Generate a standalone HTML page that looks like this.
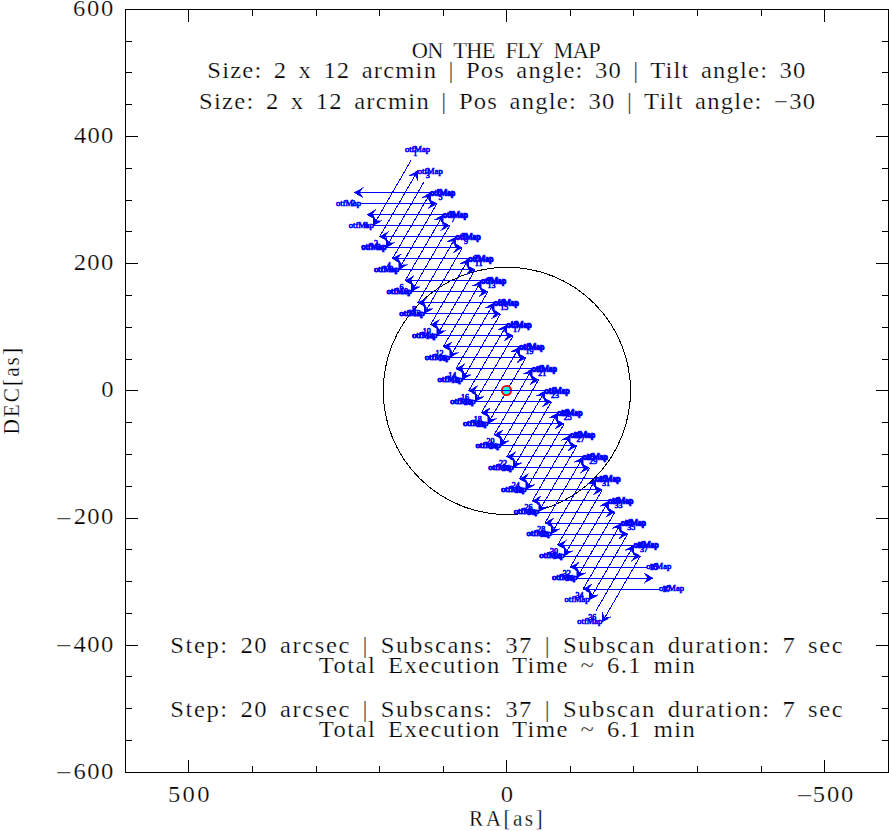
<!DOCTYPE html><html><head><meta charset="utf-8"><title>ON THE FLY MAP</title><style>
html,body{margin:0;padding:0;background:#fff;width:889px;height:831px;overflow:hidden}
svg{display:block}
text{font-family:"Liberation Serif","DejaVu Serif",serif;font-size:22.4px;fill:#000;stroke:#fff;stroke-width:0.25px}
.lbl text{font-size:9px;fill:#0000ff;stroke:#0000ff;stroke-width:0.7px}
</style></head><body>
<svg width="889" height="831" viewBox="0 0 889 831">
<rect width="889" height="831" fill="#fff"/>
<path d="M125.5 9.5H888.5V772.5H125.5Z" fill="none" stroke="#000" stroke-width="1" shape-rendering="crispEdges"/>
<path d="M126 740.5h6M888 740.5h-6M126 708.5h6M888 708.5h-6M126 676.5h6M888 676.5h-6M126 645.5h12M888 645.5h-12M126 613.5h6M888 613.5h-6M126 581.5h6M888 581.5h-6M126 549.5h6M888 549.5h-6M126 518.5h12M888 518.5h-12M126 486.5h6M888 486.5h-6M126 454.5h6M888 454.5h-6M126 422.5h6M888 422.5h-6M126 390.5h12M888 390.5h-12M126 359.5h6M888 359.5h-6M126 327.5h6M888 327.5h-6M126 295.5h6M888 295.5h-6M126 263.5h12M888 263.5h-12M126 231.5h6M888 231.5h-6M126 200.5h6M888 200.5h-6M126 168.5h6M888 168.5h-6M126 136.5h12M888 136.5h-12M126 104.5h6M888 104.5h-6M126 72.5h6M888 72.5h-6M126 41.5h6M888 41.5h-6M824.5 10v12M824.5 772v-12M761.5 10v6M761.5 772v-6M697.5 10v6M697.5 772v-6M633.5 10v6M633.5 772v-6M570.5 10v6M570.5 772v-6M506.5 10v12M506.5 772v-12M443.5 10v6M443.5 772v-6M379.5 10v6M379.5 772v-6M316.5 10v6M316.5 772v-6M252.5 10v6M252.5 772v-6M188.5 10v12M188.5 772v-12" stroke="#000" stroke-width="1" fill="none" shape-rendering="crispEdges"/>
<circle cx="506.9" cy="390.9" r="123.6" fill="none" stroke="#000" stroke-width="1" shape-rendering="crispEdges"/>
<path d="M411.45 159.6L373.3 225.67M379.66 236.69L417.81 170.61M424.17 181.62L386.02 247.7M392.38 258.71L430.52 192.64M436.88 203.65L398.73 269.72M405.09 280.74L443.24 214.66M449.6 225.67L411.45 291.75M417.81 302.76L455.96 236.69M462.31 247.7L424.17 313.77M430.52 324.79L468.67 258.71M475.03 269.72L436.88 335.8M443.24 346.81L481.39 280.74M487.75 291.75L449.6 357.82M455.96 368.84L494.1 302.76M500.46 313.77L462.31 379.85M468.67 390.86L506.82 324.79M513.18 335.8L475.03 401.87M481.39 412.88L519.54 346.81M525.89 357.82L487.75 423.9M494.1 434.91L532.25 368.84M538.61 379.85L500.46 445.92M506.82 456.93L544.97 390.86M551.33 401.87L513.18 467.95M519.54 478.96L557.68 412.88M564.04 423.9L525.89 489.97M532.25 500.98L570.4 434.91M576.76 445.92L538.61 512M544.97 523.01L583.12 456.93M589.47 467.95L551.33 534.02M557.68 545.03L595.83 478.96M602.19 489.97L564.04 556.05M570.4 567.06L608.55 500.98M614.91 512L576.76 578.07M583.12 589.08L621.26 523.01M627.62 534.02L589.47 600.1M595.83 611.11L633.98 545.03M640.34 556.05L602.19 622.12" stroke="#0000ff" stroke-width="1" fill="none" shape-rendering="crispEdges"/>
<path d="M373.3 225.67L373.3 215.28L375.9 221.17L382.31 220.48ZM417.81 170.61L417.81 181.01L415.21 175.12L408.8 175.81ZM386.02 247.7L386.01 237.3L388.62 243.2L395.02 242.5ZM430.52 192.64L430.53 203.03L427.92 197.14L421.52 197.83ZM398.73 269.72L398.73 259.33L401.33 265.22L407.74 264.53ZM443.24 214.66L443.24 225.06L440.64 219.17L434.24 219.86ZM411.45 291.75L411.45 281.35L414.05 287.25L420.45 286.55ZM455.96 236.69L455.96 247.08L453.36 241.19L446.95 241.88ZM424.17 313.77L424.16 303.38L426.77 309.27L433.17 308.58ZM468.67 258.71L468.68 269.11L466.07 263.21L459.67 263.91ZM436.88 335.8L436.88 325.4L439.48 331.29L445.89 330.6ZM481.39 280.74L481.39 291.13L478.79 285.24L472.38 285.93ZM449.6 357.82L449.59 347.43L452.2 353.32L458.6 352.63ZM494.1 302.76L494.11 313.16L491.5 307.26L485.1 307.96ZM462.31 379.85L462.31 369.45L464.91 375.34L471.32 374.65ZM506.82 324.79L506.82 335.18L504.22 329.29L497.82 329.98ZM475.03 401.87L475.03 391.48L477.63 397.37L484.03 396.68ZM519.54 346.81L519.54 357.2L516.94 351.31L510.53 352ZM487.75 423.9L487.74 413.5L490.35 419.39L496.75 418.7ZM532.25 368.84L532.26 379.23L529.65 373.34L523.25 374.03ZM500.46 445.92L500.46 435.53L503.06 441.42L509.47 440.73ZM544.97 390.86L544.97 401.25L542.37 395.36L535.96 396.05ZM513.18 467.95L513.17 457.55L515.78 463.44L522.18 462.75ZM557.68 412.88L557.69 423.28L555.08 417.39L548.68 418.08ZM525.89 489.97L525.89 479.58L528.49 485.47L534.9 484.78ZM570.4 434.91L570.4 445.3L567.8 439.41L561.4 440.1ZM538.61 512L538.61 501.6L541.21 507.49L547.61 506.8ZM583.12 456.93L583.12 467.33L580.52 461.44L574.11 462.13ZM551.33 534.02L551.32 523.63L553.93 529.52L560.33 528.83ZM595.83 478.96L595.84 489.35L593.23 483.46L586.83 484.15ZM564.04 556.05L564.04 545.65L566.64 551.54L573.05 550.85ZM608.55 500.98L608.55 511.38L605.95 505.49L599.54 506.18ZM576.76 578.07L576.75 567.68L579.36 573.57L585.76 572.88ZM621.26 523.01L621.27 533.4L618.66 527.51L612.26 528.2ZM589.47 600.1L589.47 589.7L592.07 595.59L598.48 594.9ZM633.98 545.03L633.98 555.43L631.38 549.54L624.98 550.23ZM602.19 622.12L602.19 611.73L604.79 617.62L611.19 616.93Z" fill="#0000ff" stroke="#0000ff" stroke-width="0.5" shape-rendering="crispEdges"/>
<g class="lbl"><text x="404.95" y="151.61" textLength="25" lengthAdjust="spacingAndGlyphs">otfMap</text><text x="413.15" y="155.89" textLength="4" lengthAdjust="spacingAndGlyphs">1</text><text x="361.16" y="249.48" textLength="25" lengthAdjust="spacingAndGlyphs">otfMap</text><text x="373.96" y="245.8" textLength="4" lengthAdjust="spacingAndGlyphs">2</text><text x="417.67" y="173.63" textLength="25" lengthAdjust="spacingAndGlyphs">otfMap</text><text x="425.87" y="177.92" textLength="4" lengthAdjust="spacingAndGlyphs">3</text><text x="373.88" y="271.5" textLength="25" lengthAdjust="spacingAndGlyphs">otfMap</text><text x="386.68" y="267.82" textLength="4" lengthAdjust="spacingAndGlyphs">4</text><text x="430.38" y="195.66" textLength="25" lengthAdjust="spacingAndGlyphs">otfMap</text><text x="438.58" y="199.94" textLength="4" lengthAdjust="spacingAndGlyphs">5</text><text x="386.59" y="293.53" textLength="25" lengthAdjust="spacingAndGlyphs">otfMap</text><text x="399.39" y="289.84" textLength="4" lengthAdjust="spacingAndGlyphs">6</text><text x="443.1" y="217.68" textLength="25" lengthAdjust="spacingAndGlyphs">otfMap</text><text x="451.3" y="221.97" textLength="4" lengthAdjust="spacingAndGlyphs">7</text><text x="399.31" y="315.55" textLength="25" lengthAdjust="spacingAndGlyphs">otfMap</text><text x="412.11" y="311.87" textLength="4" lengthAdjust="spacingAndGlyphs">8</text><text x="455.81" y="239.71" textLength="25" lengthAdjust="spacingAndGlyphs">otfMap</text><text x="464.01" y="243.99" textLength="4" lengthAdjust="spacingAndGlyphs">9</text><text x="412.02" y="337.58" textLength="25" lengthAdjust="spacingAndGlyphs">otfMap</text><text x="422.82" y="333.89" textLength="8" lengthAdjust="spacingAndGlyphs">10</text><text x="468.53" y="261.73" textLength="25" lengthAdjust="spacingAndGlyphs">otfMap</text><text x="474.73" y="266.02" textLength="8" lengthAdjust="spacingAndGlyphs">11</text><text x="424.74" y="359.6" textLength="25" lengthAdjust="spacingAndGlyphs">otfMap</text><text x="435.54" y="355.92" textLength="8" lengthAdjust="spacingAndGlyphs">12</text><text x="481.25" y="283.76" textLength="25" lengthAdjust="spacingAndGlyphs">otfMap</text><text x="487.45" y="288.04" textLength="8" lengthAdjust="spacingAndGlyphs">13</text><text x="437.46" y="381.63" textLength="25" lengthAdjust="spacingAndGlyphs">otfMap</text><text x="448.26" y="377.94" textLength="8" lengthAdjust="spacingAndGlyphs">14</text><text x="493.96" y="305.78" textLength="25" lengthAdjust="spacingAndGlyphs">otfMap</text><text x="500.16" y="310.06" textLength="8" lengthAdjust="spacingAndGlyphs">15</text><text x="450.17" y="403.65" textLength="25" lengthAdjust="spacingAndGlyphs">otfMap</text><text x="460.97" y="399.97" textLength="8" lengthAdjust="spacingAndGlyphs">16</text><text x="506.68" y="327.81" textLength="25" lengthAdjust="spacingAndGlyphs">otfMap</text><text x="512.88" y="332.09" textLength="8" lengthAdjust="spacingAndGlyphs">17</text><text x="462.89" y="425.68" textLength="25" lengthAdjust="spacingAndGlyphs">otfMap</text><text x="473.69" y="421.99" textLength="8" lengthAdjust="spacingAndGlyphs">18</text><text x="519.39" y="349.83" textLength="25" lengthAdjust="spacingAndGlyphs">otfMap</text><text x="525.59" y="354.11" textLength="8" lengthAdjust="spacingAndGlyphs">19</text><text x="475.6" y="447.7" textLength="25" lengthAdjust="spacingAndGlyphs">otfMap</text><text x="486.4" y="444.02" textLength="8" lengthAdjust="spacingAndGlyphs">20</text><text x="532.11" y="371.86" textLength="25" lengthAdjust="spacingAndGlyphs">otfMap</text><text x="538.31" y="376.14" textLength="8" lengthAdjust="spacingAndGlyphs">21</text><text x="488.32" y="469.73" textLength="25" lengthAdjust="spacingAndGlyphs">otfMap</text><text x="499.12" y="466.04" textLength="8" lengthAdjust="spacingAndGlyphs">22</text><text x="544.83" y="393.88" textLength="25" lengthAdjust="spacingAndGlyphs">otfMap</text><text x="551.03" y="398.16" textLength="8" lengthAdjust="spacingAndGlyphs">23</text><text x="501.04" y="491.75" textLength="25" lengthAdjust="spacingAndGlyphs">otfMap</text><text x="511.84" y="488.07" textLength="8" lengthAdjust="spacingAndGlyphs">24</text><text x="557.54" y="415.9" textLength="25" lengthAdjust="spacingAndGlyphs">otfMap</text><text x="563.74" y="420.19" textLength="8" lengthAdjust="spacingAndGlyphs">25</text><text x="513.75" y="513.78" textLength="25" lengthAdjust="spacingAndGlyphs">otfMap</text><text x="524.55" y="510.09" textLength="8" lengthAdjust="spacingAndGlyphs">26</text><text x="570.26" y="437.93" textLength="25" lengthAdjust="spacingAndGlyphs">otfMap</text><text x="576.46" y="442.21" textLength="8" lengthAdjust="spacingAndGlyphs">27</text><text x="526.47" y="535.8" textLength="25" lengthAdjust="spacingAndGlyphs">otfMap</text><text x="537.27" y="532.12" textLength="8" lengthAdjust="spacingAndGlyphs">28</text><text x="582.97" y="459.95" textLength="25" lengthAdjust="spacingAndGlyphs">otfMap</text><text x="589.17" y="464.24" textLength="8" lengthAdjust="spacingAndGlyphs">29</text><text x="539.18" y="557.83" textLength="25" lengthAdjust="spacingAndGlyphs">otfMap</text><text x="549.98" y="554.14" textLength="8" lengthAdjust="spacingAndGlyphs">30</text><text x="595.69" y="481.98" textLength="25" lengthAdjust="spacingAndGlyphs">otfMap</text><text x="601.89" y="486.26" textLength="8" lengthAdjust="spacingAndGlyphs">31</text><text x="551.9" y="579.85" textLength="25" lengthAdjust="spacingAndGlyphs">otfMap</text><text x="562.7" y="576.17" textLength="8" lengthAdjust="spacingAndGlyphs">32</text><text x="608.41" y="504" textLength="25" lengthAdjust="spacingAndGlyphs">otfMap</text><text x="614.61" y="508.29" textLength="8" lengthAdjust="spacingAndGlyphs">33</text><text x="564.62" y="601.88" textLength="25" lengthAdjust="spacingAndGlyphs">otfMap</text><text x="575.42" y="598.19" textLength="8" lengthAdjust="spacingAndGlyphs">34</text><text x="621.12" y="526.03" textLength="25" lengthAdjust="spacingAndGlyphs">otfMap</text><text x="627.32" y="530.31" textLength="8" lengthAdjust="spacingAndGlyphs">35</text><text x="577.33" y="623.9" textLength="25" lengthAdjust="spacingAndGlyphs">otfMap</text><text x="588.13" y="620.22" textLength="8" lengthAdjust="spacingAndGlyphs">36</text><text x="633.84" y="548.05" textLength="25" lengthAdjust="spacingAndGlyphs">otfMap</text><text x="640.04" y="552.34" textLength="8" lengthAdjust="spacingAndGlyphs">37</text></g>
<circle cx="506.5" cy="390.5" r="4.6" fill="#00ffff" stroke="#ff0000" stroke-width="1.9"/>
<path d="M430.52 192.64L354.23 192.64M360.59 203.65L436.88 203.65M443.24 214.66L366.94 214.66M373.3 225.67L449.6 225.67M455.96 236.69L379.66 236.69M386.02 247.7L462.31 247.7M468.67 258.71L392.38 258.71M398.73 269.72L475.03 269.72M481.39 280.74L405.09 280.74M411.45 291.75L487.75 291.75M494.1 302.76L417.81 302.76M424.17 313.77L500.46 313.77M506.82 324.79L430.52 324.79M436.88 335.8L513.18 335.8M519.54 346.81L443.24 346.81M449.6 357.82L525.89 357.82M532.25 368.84L455.96 368.84M462.31 379.85L538.61 379.85M544.97 390.86L468.67 390.86M475.03 401.87L551.33 401.87M557.68 412.88L481.39 412.88M487.75 423.9L564.04 423.9M570.4 434.91L494.1 434.91M500.46 445.92L576.76 445.92M583.12 456.93L506.82 456.93M513.18 467.95L589.47 467.95M595.83 478.96L519.54 478.96M525.89 489.97L602.19 489.97M608.55 500.98L532.25 500.98M538.61 512L614.91 512M621.26 523.01L544.97 523.01M551.33 534.02L627.62 534.02M633.98 545.03L557.68 545.03M564.04 556.05L640.34 556.05M646.7 567.06L570.4 567.06M576.76 578.07L653.05 578.07M659.41 589.08L583.12 589.08" stroke="#0000ff" stroke-width="1" fill="none" shape-rendering="crispEdges"/>
<path d="M354.23 192.64L363.23 187.44L359.43 192.64L363.23 197.84ZM436.88 203.65L427.88 208.85L431.68 203.65L427.88 198.45ZM366.94 214.66L375.94 209.46L372.14 214.66L375.94 219.86ZM449.6 225.67L440.6 230.87L444.4 225.67L440.6 220.47ZM379.66 236.69L388.66 231.49L384.86 236.69L388.66 241.89ZM462.31 247.7L453.31 252.9L457.11 247.7L453.31 242.5ZM392.38 258.71L401.38 253.51L397.58 258.71L401.38 263.91ZM475.03 269.72L466.03 274.92L469.83 269.72L466.03 264.52ZM405.09 280.74L414.09 275.54L410.29 280.74L414.09 285.94ZM487.75 291.75L478.75 296.95L482.55 291.75L478.75 286.55ZM417.81 302.76L426.81 297.56L423.01 302.76L426.81 307.96ZM500.46 313.77L491.46 318.97L495.26 313.77L491.46 308.57ZM430.52 324.79L439.52 319.59L435.72 324.79L439.52 329.99ZM513.18 335.8L504.18 341L507.98 335.8L504.18 330.6ZM443.24 346.81L452.24 341.61L448.44 346.81L452.24 352.01ZM525.89 357.82L516.89 363.02L520.69 357.82L516.89 352.62ZM455.96 368.84L464.96 363.64L461.16 368.84L464.96 374.04ZM538.61 379.85L529.61 385.05L533.41 379.85L529.61 374.65ZM468.67 390.86L477.67 385.66L473.87 390.86L477.67 396.06ZM551.33 401.87L542.33 407.07L546.13 401.87L542.33 396.67ZM481.39 412.88L490.39 407.68L486.59 412.88L490.39 418.08ZM564.04 423.9L555.04 429.1L558.84 423.9L555.04 418.7ZM494.1 434.91L503.1 429.71L499.3 434.91L503.1 440.11ZM576.76 445.92L567.76 451.12L571.56 445.92L567.76 440.72ZM506.82 456.93L515.82 451.73L512.02 456.93L515.82 462.13ZM589.47 467.95L580.47 473.15L584.27 467.95L580.47 462.75ZM519.54 478.96L528.54 473.76L524.74 478.96L528.54 484.16ZM602.19 489.97L593.19 495.17L596.99 489.97L593.19 484.77ZM532.25 500.98L541.25 495.78L537.45 500.98L541.25 506.18ZM614.91 512L605.91 517.2L609.71 512L605.91 506.8ZM544.97 523.01L553.97 517.81L550.17 523.01L553.97 528.21ZM627.62 534.02L618.62 539.22L622.42 534.02L618.62 528.82ZM557.68 545.03L566.68 539.83L562.88 545.03L566.68 550.23ZM640.34 556.05L631.34 561.25L635.14 556.05L631.34 550.85ZM570.4 567.06L579.4 561.86L575.6 567.06L579.4 572.26ZM653.05 578.07L644.05 583.27L647.85 578.07L644.05 572.87ZM583.12 589.08L592.12 583.88L588.32 589.08L592.12 594.28Z" fill="#0000ff" stroke="#0000ff" stroke-width="0.5" shape-rendering="crispEdges"/>
<g class="lbl"><text x="430.02" y="195.04" textLength="25" lengthAdjust="spacingAndGlyphs">otfMap</text><text x="435.92" y="195.34" textLength="4" lengthAdjust="spacingAndGlyphs">1</text><text x="336.09" y="206.05" textLength="25" lengthAdjust="spacingAndGlyphs">otfMap</text><text x="351.19" y="206.35" textLength="4" lengthAdjust="spacingAndGlyphs">2</text><text x="442.74" y="217.06" textLength="25" lengthAdjust="spacingAndGlyphs">otfMap</text><text x="448.64" y="217.36" textLength="4" lengthAdjust="spacingAndGlyphs">3</text><text x="348.8" y="228.07" textLength="25" lengthAdjust="spacingAndGlyphs">otfMap</text><text x="363.9" y="228.37" textLength="4" lengthAdjust="spacingAndGlyphs">4</text><text x="455.46" y="239.09" textLength="25" lengthAdjust="spacingAndGlyphs">otfMap</text><text x="461.36" y="239.39" textLength="4" lengthAdjust="spacingAndGlyphs">5</text><text x="361.52" y="250.1" textLength="25" lengthAdjust="spacingAndGlyphs">otfMap</text><text x="376.62" y="250.4" textLength="4" lengthAdjust="spacingAndGlyphs">6</text><text x="468.17" y="261.11" textLength="25" lengthAdjust="spacingAndGlyphs">otfMap</text><text x="474.07" y="261.41" textLength="4" lengthAdjust="spacingAndGlyphs">7</text><text x="374.23" y="272.12" textLength="25" lengthAdjust="spacingAndGlyphs">otfMap</text><text x="389.33" y="272.42" textLength="4" lengthAdjust="spacingAndGlyphs">8</text><text x="480.89" y="283.14" textLength="25" lengthAdjust="spacingAndGlyphs">otfMap</text><text x="486.79" y="283.44" textLength="4" lengthAdjust="spacingAndGlyphs">9</text><text x="386.95" y="294.15" textLength="25" lengthAdjust="spacingAndGlyphs">otfMap</text><text x="400.05" y="294.45" textLength="8" lengthAdjust="spacingAndGlyphs">10</text><text x="493.6" y="305.16" textLength="25" lengthAdjust="spacingAndGlyphs">otfMap</text><text x="497.5" y="305.46" textLength="8" lengthAdjust="spacingAndGlyphs">11</text><text x="399.67" y="316.17" textLength="25" lengthAdjust="spacingAndGlyphs">otfMap</text><text x="412.77" y="316.47" textLength="8" lengthAdjust="spacingAndGlyphs">12</text><text x="506.32" y="327.19" textLength="25" lengthAdjust="spacingAndGlyphs">otfMap</text><text x="510.22" y="327.49" textLength="8" lengthAdjust="spacingAndGlyphs">13</text><text x="412.38" y="338.2" textLength="25" lengthAdjust="spacingAndGlyphs">otfMap</text><text x="425.48" y="338.5" textLength="8" lengthAdjust="spacingAndGlyphs">14</text><text x="519.04" y="349.21" textLength="25" lengthAdjust="spacingAndGlyphs">otfMap</text><text x="522.94" y="349.51" textLength="8" lengthAdjust="spacingAndGlyphs">15</text><text x="425.1" y="360.22" textLength="25" lengthAdjust="spacingAndGlyphs">otfMap</text><text x="438.2" y="360.52" textLength="8" lengthAdjust="spacingAndGlyphs">16</text><text x="531.75" y="371.24" textLength="25" lengthAdjust="spacingAndGlyphs">otfMap</text><text x="535.65" y="371.54" textLength="8" lengthAdjust="spacingAndGlyphs">17</text><text x="437.81" y="382.25" textLength="25" lengthAdjust="spacingAndGlyphs">otfMap</text><text x="450.91" y="382.55" textLength="8" lengthAdjust="spacingAndGlyphs">18</text><text x="544.47" y="393.26" textLength="25" lengthAdjust="spacingAndGlyphs">otfMap</text><text x="548.37" y="393.56" textLength="8" lengthAdjust="spacingAndGlyphs">19</text><text x="450.53" y="404.27" textLength="25" lengthAdjust="spacingAndGlyphs">otfMap</text><text x="463.63" y="404.57" textLength="8" lengthAdjust="spacingAndGlyphs">20</text><text x="557.18" y="415.28" textLength="25" lengthAdjust="spacingAndGlyphs">otfMap</text><text x="561.08" y="415.58" textLength="8" lengthAdjust="spacingAndGlyphs">21</text><text x="463.25" y="426.3" textLength="25" lengthAdjust="spacingAndGlyphs">otfMap</text><text x="476.35" y="426.6" textLength="8" lengthAdjust="spacingAndGlyphs">22</text><text x="569.9" y="437.31" textLength="25" lengthAdjust="spacingAndGlyphs">otfMap</text><text x="573.8" y="437.61" textLength="8" lengthAdjust="spacingAndGlyphs">23</text><text x="475.96" y="448.32" textLength="25" lengthAdjust="spacingAndGlyphs">otfMap</text><text x="489.06" y="448.62" textLength="8" lengthAdjust="spacingAndGlyphs">24</text><text x="582.62" y="459.33" textLength="25" lengthAdjust="spacingAndGlyphs">otfMap</text><text x="586.52" y="459.63" textLength="8" lengthAdjust="spacingAndGlyphs">25</text><text x="488.68" y="470.35" textLength="25" lengthAdjust="spacingAndGlyphs">otfMap</text><text x="501.78" y="470.65" textLength="8" lengthAdjust="spacingAndGlyphs">26</text><text x="595.33" y="481.36" textLength="25" lengthAdjust="spacingAndGlyphs">otfMap</text><text x="599.23" y="481.66" textLength="8" lengthAdjust="spacingAndGlyphs">27</text><text x="501.39" y="492.37" textLength="25" lengthAdjust="spacingAndGlyphs">otfMap</text><text x="514.49" y="492.67" textLength="8" lengthAdjust="spacingAndGlyphs">28</text><text x="608.05" y="503.38" textLength="25" lengthAdjust="spacingAndGlyphs">otfMap</text><text x="611.95" y="503.68" textLength="8" lengthAdjust="spacingAndGlyphs">29</text><text x="514.11" y="514.4" textLength="25" lengthAdjust="spacingAndGlyphs">otfMap</text><text x="527.21" y="514.7" textLength="8" lengthAdjust="spacingAndGlyphs">30</text><text x="620.76" y="525.41" textLength="25" lengthAdjust="spacingAndGlyphs">otfMap</text><text x="624.66" y="525.71" textLength="8" lengthAdjust="spacingAndGlyphs">31</text><text x="526.83" y="536.42" textLength="25" lengthAdjust="spacingAndGlyphs">otfMap</text><text x="539.93" y="536.72" textLength="8" lengthAdjust="spacingAndGlyphs">32</text><text x="633.48" y="547.43" textLength="25" lengthAdjust="spacingAndGlyphs">otfMap</text><text x="637.38" y="547.73" textLength="8" lengthAdjust="spacingAndGlyphs">33</text><text x="539.54" y="558.45" textLength="25" lengthAdjust="spacingAndGlyphs">otfMap</text><text x="552.64" y="558.75" textLength="8" lengthAdjust="spacingAndGlyphs">34</text><text x="646.2" y="569.46" textLength="25" lengthAdjust="spacingAndGlyphs">otfMap</text><text x="650.1" y="569.76" textLength="8" lengthAdjust="spacingAndGlyphs">35</text><text x="552.26" y="580.47" textLength="25" lengthAdjust="spacingAndGlyphs">otfMap</text><text x="565.36" y="580.77" textLength="8" lengthAdjust="spacingAndGlyphs">36</text><text x="658.91" y="591.48" textLength="25" lengthAdjust="spacingAndGlyphs">otfMap</text><text x="662.81" y="591.78" textLength="8" lengthAdjust="spacingAndGlyphs">37</text></g>
<text transform="scale(1.0 1)" x="411.8" y="57.9" textLength="188.8" lengthAdjust="spacing" style="word-spacing:6px">ON THE FLY MAP</text>
<text transform="scale(1.1 1)" x="188.45" y="77.8" textLength="543.64" lengthAdjust="spacing" style="word-spacing:3.64px">Size: 2 x 12 arcmin | Pos angle: 30 | Tilt angle: 30</text>
<text transform="scale(1.1 1)" x="181" y="108.8" textLength="559.91" lengthAdjust="spacing" style="word-spacing:3.64px">Size: 2 x 12 arcmin | Pos angle: 30 | Tilt angle: −30</text>
<text transform="scale(1.1 1)" x="154.82" y="653.3" textLength="611.18" lengthAdjust="spacing" style="word-spacing:3.64px">Step: 20 arcsec | Subscans: 37 | Subscan duration: 7 sec</text>
<text transform="scale(1.1 1)" x="289.82" y="673" textLength="341.91" lengthAdjust="spacing" style="word-spacing:3.64px">Total Execution Time ~ 6.1 min</text>
<text transform="scale(1.1 1)" x="154.82" y="717" textLength="611.18" lengthAdjust="spacing" style="word-spacing:3.64px">Step: 20 arcsec | Subscans: 37 | Subscan duration: 7 sec</text>
<text transform="scale(1.1 1)" x="289.82" y="737" textLength="341.91" lengthAdjust="spacing" style="word-spacing:3.64px">Total Execution Time ~ 6.1 min</text>
<text transform="scale(0.95 1)" x="493.79" y="825.9" textLength="77.26" lengthAdjust="spacing">RA[as]</text>
<text transform="scale(1.1 1)" x="152.73" y="802" textLength="37.73" lengthAdjust="spacing">500</text>
<text transform="scale(1.1 1)" x="455.18" y="801.6" textLength="10.45" lengthAdjust="spacing">0</text>
<text transform="scale(1.1 1)" x="738.91" y="801.9" textLength="36.82" lengthAdjust="spacing">500</text>
<text transform="scale(1.28 1)" x="622.27" y="803" textLength="10.86" lengthAdjust="spacing">−</text>
<text transform="scale(1.1 1)" x="66.36" y="15.6" textLength="36.64" lengthAdjust="spacing">600</text>
<text transform="scale(1.1 1)" x="67.27" y="142.9" textLength="35.73" lengthAdjust="spacing">400</text>
<text transform="scale(1.1 1)" x="67.05" y="269.8" textLength="35.86" lengthAdjust="spacing">200</text>
<text transform="scale(1.1 1)" x="92" y="396.7" textLength="9.64" lengthAdjust="spacing">0</text>
<text transform="scale(1.1 1)" x="67.05" y="524.5" textLength="35.86" lengthAdjust="spacing">200</text>
<text transform="scale(1.1 1)" x="66.91" y="651.8" textLength="36" lengthAdjust="spacing">400</text>
<text transform="scale(1.1 1)" x="66.82" y="778.9" textLength="36.09" lengthAdjust="spacing">600</text>
<text transform="scale(1.28 1)" x="43.59" y="526" textLength="10.94" lengthAdjust="spacing">−</text>
<text transform="scale(1.28 1)" x="43.59" y="653" textLength="10.94" lengthAdjust="spacing">−</text>
<text transform="scale(1.28 1)" x="43.59" y="780" textLength="10.94" lengthAdjust="spacing">−</text>
<g transform="translate(19,0) rotate(-90)"><text transform="scale(0.95 1)" x="-457.47" y="0" textLength="91.16" lengthAdjust="spacing">DEC[as]</text></g>
</svg></body></html>
